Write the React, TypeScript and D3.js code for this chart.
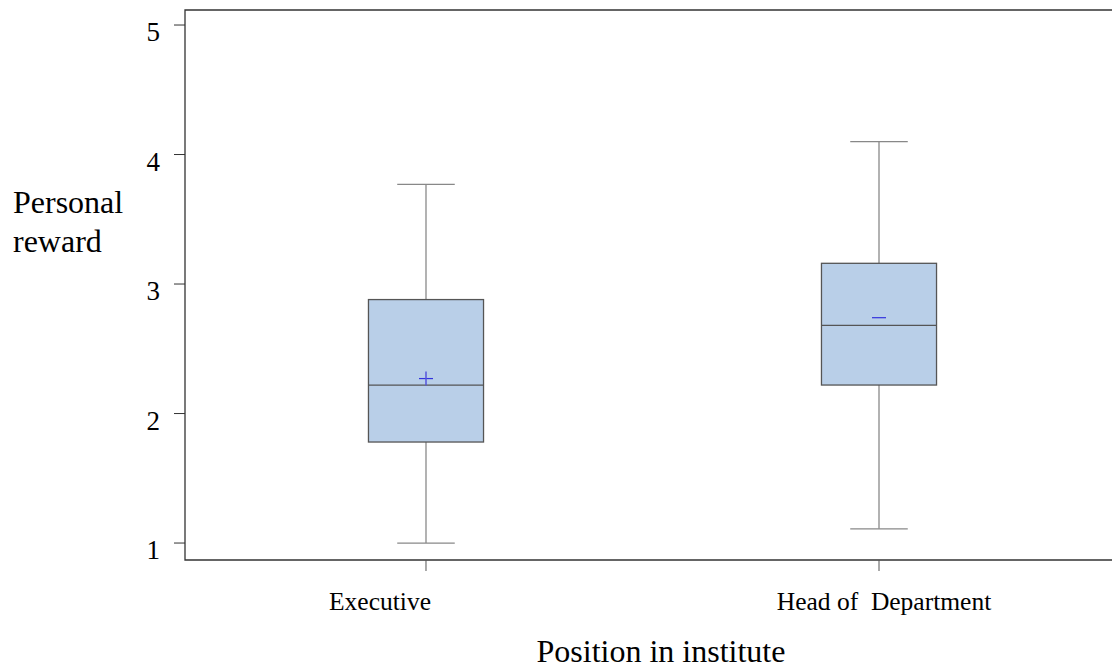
import React, { useEffect, useRef } from "react";
import * as d3 from "d3";

// box plot summary per group
const categories = ["Executive", "Head of  Department"];
const mins = [1.0, 1.11];
const q1s = [1.78, 2.22];
const medians = [2.22, 2.68];
const q3s = [2.88, 3.16];
const maxs = [3.77, 4.1];
const means = [2.27, 2.74];
const yTicks = [1, 2, 3, 4, 5];

const W = 1112, H = 670;
const margin = { top: 10, left: 185, bottom: 110, right: -8 };
const FONT = "'Liberation Serif', 'Times New Roman', serif";

export default function App() {
  const ref = useRef<SVGSVGElement>(null);

  useEffect(() => {
    const svg = d3.select(ref.current);
    svg.selectAll("*").remove();

    const x0 = margin.left, x1 = W - margin.right;
    const yTop = margin.top, yBot = H - margin.bottom;

    const x = d3.scalePoint<string>().domain(categories).range([x0, x1]).padding(0.532);
    const y = d3.scaleLinear().domain([0.869, 5.116]).range([yBot, yTop]);
    const boxW = x.step() * 0.254;
    const capW = boxW / 2;

    const data = categories.map((c, i) => ({
      c, min: mins[i], q1: q1s[i], med: medians[i], q3: q3s[i], max: maxs[i], mean: means[i],
    }));

    // frame
    svg.append("path")
      .attr("d", `M${x1},${yTop}H${x0}V${yBot}H${x1}`)
      .attr("fill", "none").attr("stroke", "#333").attr("stroke-width", 1.3);

    // y ticks
    const gy = svg.append("g");
    gy.selectAll("line").data(yTicks).join("line")
      .attr("x1", x0 - 11).attr("x2", x0)
      .attr("y1", d => y(d)).attr("y2", d => y(d))
      .attr("stroke", "#333");
    gy.selectAll("text").data(yTicks).join("text")
      .attr("x", x0 - 25).attr("y", d => y(d) + 16)
      .attr("text-anchor", "end")
      .attr("font-family", FONT).attr("font-size", 27)
      .text(d => d);

    // x ticks
    const gx = svg.append("g");
    gx.selectAll("line").data(categories).join("line")
      .attr("x1", d => x(d)!).attr("x2", d => x(d)!)
      .attr("y1", yBot).attr("y2", yBot + 11)
      .attr("stroke", "#555");
    const labelShift = [-46, 5];
    gx.selectAll("text").data(categories).join("text")
      .attr("x", (d, i) => x(d)! + labelShift[i]).attr("y", yBot + 50)
      .attr("text-anchor", "middle")
      .attr("font-family", FONT).attr("font-size", 25.5)
      .style("white-space", "pre")
      .text(d => d);

    const g = svg.append("g").selectAll("g").data(data).join("g");

    // whiskers
    g.append("line")
      .attr("x1", d => x(d.c)!).attr("x2", d => x(d.c)!)
      .attr("y1", d => y(d.q3)).attr("y2", d => y(d.max))
      .attr("stroke", "#999").attr("stroke-width", 1.5);
    g.append("line")
      .attr("x1", d => x(d.c)!).attr("x2", d => x(d.c)!)
      .attr("y1", d => y(d.q1)).attr("y2", d => y(d.min))
      .attr("stroke", "#999").attr("stroke-width", 1.5);
    g.selectAll(".cap").data(d => [d, d].map((e, k) => ({ c: e.c, v: k ? e.max : e.min }))).join("line")
      .attr("class", "cap")
      .attr("x1", d => x(d.c)! - capW / 2).attr("x2", d => x(d.c)! + capW / 2)
      .attr("y1", d => y(d.v)).attr("y2", d => y(d.v))
      .attr("stroke", "#888").attr("stroke-width", 1.3);

    // box
    g.append("rect")
      .attr("x", d => x(d.c)! - boxW / 2).attr("width", boxW)
      .attr("y", d => y(d.q3)).attr("height", d => y(d.q1) - y(d.q3))
      .attr("fill", "#b9cfe8").attr("stroke", "#555").attr("stroke-width", 1.3);
    g.append("line")
      .attr("x1", d => x(d.c)! - boxW / 2).attr("x2", d => x(d.c)! + boxW / 2)
      .attr("y1", d => y(d.med)).attr("y2", d => y(d.med))
      .attr("stroke", "#555").attr("stroke-width", 1.3);

    // mean markers: cross for first, dash for second
    g.append("line")
      .attr("x1", d => x(d.c)! - 7).attr("x2", d => x(d.c)! + 7)
      .attr("y1", d => y(d.mean)).attr("y2", d => y(d.mean))
      .attr("stroke", "#3333dd").attr("stroke-width", 1.2);
    g.filter((d, i) => i === 0).append("line")
      .attr("x1", d => x(d.c)!).attr("x2", d => x(d.c)!)
      .attr("y1", d => y(d.mean) - 7).attr("y2", d => y(d.mean) + 7)
      .attr("stroke", "#5555dd").attr("stroke-width", 1.5);

    // axis titles
    svg.append("text")
      .attr("x", 661).attr("y", 662)
      .attr("text-anchor", "middle")
      .attr("font-family", FONT).attr("font-size", 32)
      .text("Position in institute");
    const yl = svg.append("text")
      .attr("font-family", FONT).attr("font-size", 32);
    yl.append("tspan").attr("x", 13).attr("y", 213).text("Personal");
    yl.append("tspan").attr("x", 13).attr("y", 252).text("reward");
  }, []);

  return (
    <svg ref={ref} width={W} height={H}
      style={{ position: "absolute", left: 0, top: 0, background: "#fff" }} />
  );
}
